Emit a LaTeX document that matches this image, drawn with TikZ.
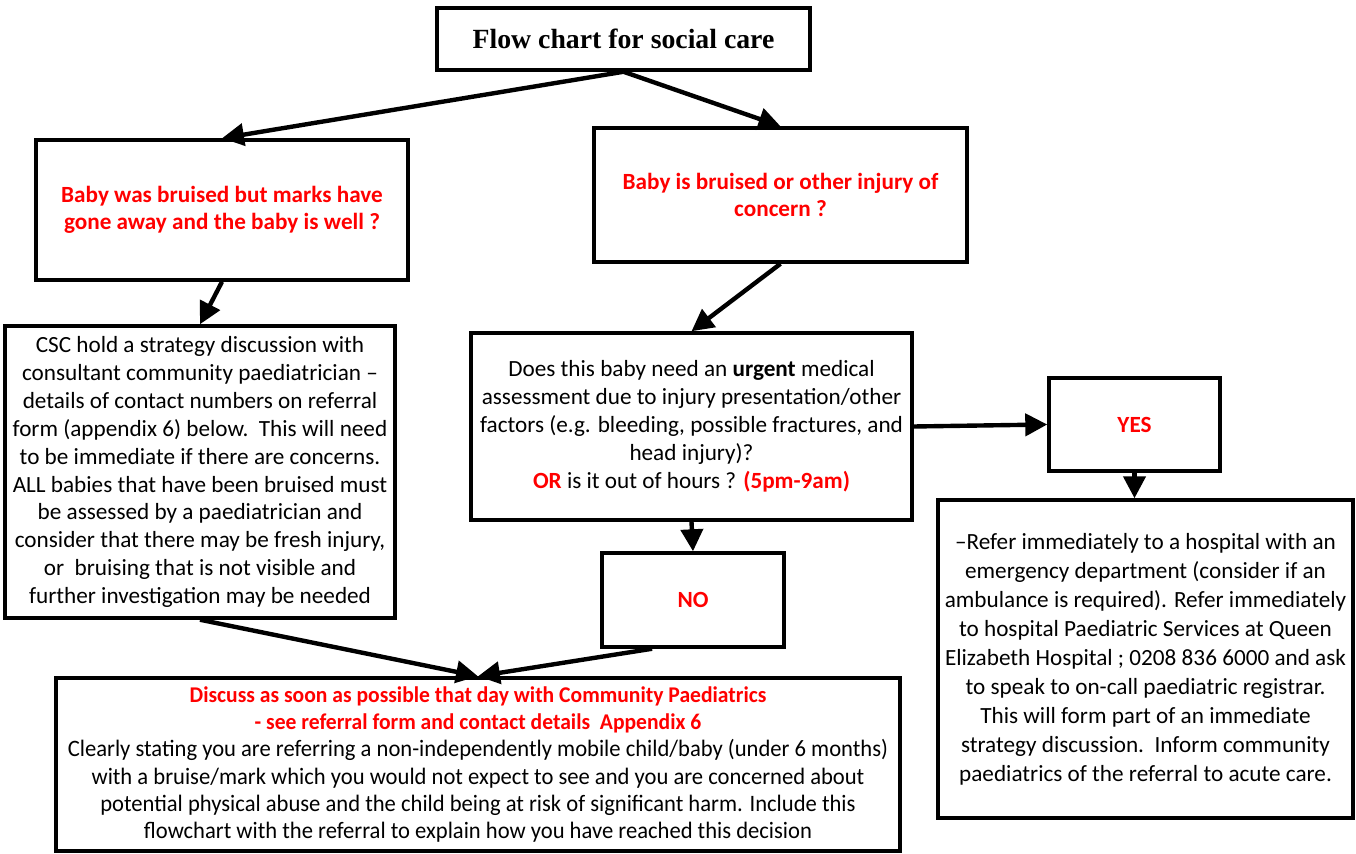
\documentclass[tikz,border=0pt]{standalone}
\usepackage{fontspec}
\setmainfont{Carlito}
\newfontfamily\titlefont{Liberation Serif}
\newfontfamily\narrowfont[FakeStretch=0.96]{Carlito}
\usetikzlibrary{arrows.meta}
\definecolor{askred}{RGB}{255,0,0}

\begin{document}
\begin{tikzpicture}[x=0.02cm, y=-0.02cm, >={Triangle[length=12.5pt,width=12.5pt]},
		box/.style={draw, line width=2pt, align=center, inner sep=0pt},
		ask/.style={box, text=askred, font=\fontsize{13.2}{15.4}\selectfont\bfseries},
		plain/.style={box, font=\fontsize{13.2}{15.9}\selectfont},
		link/.style={->, line width=2.5pt}]
		
		% frame
		\useasboundingbox (0,0) rectangle (1356,854);
		
		% title
		\node[box, minimum width=7.46cm, minimum height=1.24cm, font=\titlefont\fontsize{15.8}{18}\selectfont\bfseries]
			(title) at (623.5,39) {Flow chart for social care};
		
		% questions
		\node[ask, minimum width=7.44cm, minimum height=2.8cm] (gone) at (222,210)
			{Baby was bruised but marks have\\gone away and the baby is well ?};
		\node[ask, minimum width=7.46cm, minimum height=2.68cm] (injury) at (780.5,195)
			{Baby is bruised or other injury of\\concern ?};
		
		% left branch
		\node[plain, minimum width=7.8cm, minimum height=5.84cm] (csc) at (200,472)
			{CSC hold a strategy discussion with\\consultant community paediatrician --\\details of contact numbers on referral\\form (appendix 6) below.\ \ This will need\\to be immediate if there are concerns.\\ALL babies that have been bruised must\\be assessed by a paediatrician and\\consider that there may be fresh injury,\\or\ \ bruising that is not visible and\\further investigation may be needed};
		
		% right branch
		\node[plain, minimum width=8.82cm, minimum height=3.74cm] (urgent) at (691.5,426.5)
			{Does this baby need an \textbf{urgent} medical\\assessment due to injury presentation/other\\factors (e.g. bleeding, possible fractures, and\\head injury)?\\\textcolor{askred}{\textbf{OR}} is it out of hours ? \textcolor{askred}{\textbf{(5pm-9am)}}};
		\node[ask, minimum width=3.42cm, minimum height=1.86cm] (yes) at (1134.5,424.5) {YES};
		\node[ask, minimum width=3.64cm, minimum height=1.88cm] (no) at (693,600) {NO};
		\node[plain, minimum width=8.3cm, minimum height=6.36cm, font=\fontsize{13.2}{16.5}\selectfont] (refer) at (1145.5,659)
			{--Refer immediately to a hospital with an\\emergency department (consider if an\\ambulance is required). Refer immediately\\to hospital Paediatric Services at Queen\\Elizabeth Hospital ; 0208 836 6000 and ask\\to speak to on-call paediatric registrar.\\This will form part of an immediate\\strategy discussion.\ \ Inform community\\paediatrics of the referral to acute care.};
		
		% discuss
		\node[plain, minimum width=16.88cm, minimum height=3.46cm, font=\narrowfont\fontsize{13.4}{15.4}\selectfont] (discuss) at (478,764.5)
			{\textcolor{askred}{\textbf{\fontsize{12.8}{15.4}\selectfont Discuss as soon as possible that day with Community Paediatrics}}\\\textcolor{askred}{\textbf{\fontsize{12.8}{15.4}\selectfont - see referral form and contact details\ \ Appendix 6}}\\Clearly stating you are referring a non-independently mobile child/baby (under 6 months)\\with a bruise/mark which you would not expect to see and you are concerned about\\potential physical abuse and the child being at risk of significant harm. Include this\\flowchart with the referral to explain how you have reached this decision};
		
		% arrows
		\draw[link] (title.south) -- (gone.north);
		\draw[link] (title.south) -- (injury.north);
		\draw[link] (gone.south) -- (csc.north);
		\draw[link] (injury.south) -- (urgent.north);
		\draw[link] (urgent.east) -- (yes.west);
		\draw[link] (yes.south) -- (yes.south |- refer.north);
		\draw[link] (urgent.south) -- (no.north);
		\draw[link] (csc.south) -- (discuss.north);
		\draw[link] (no.230) -- (discuss.north);
		
	\end{tikzpicture}
\end{document}
